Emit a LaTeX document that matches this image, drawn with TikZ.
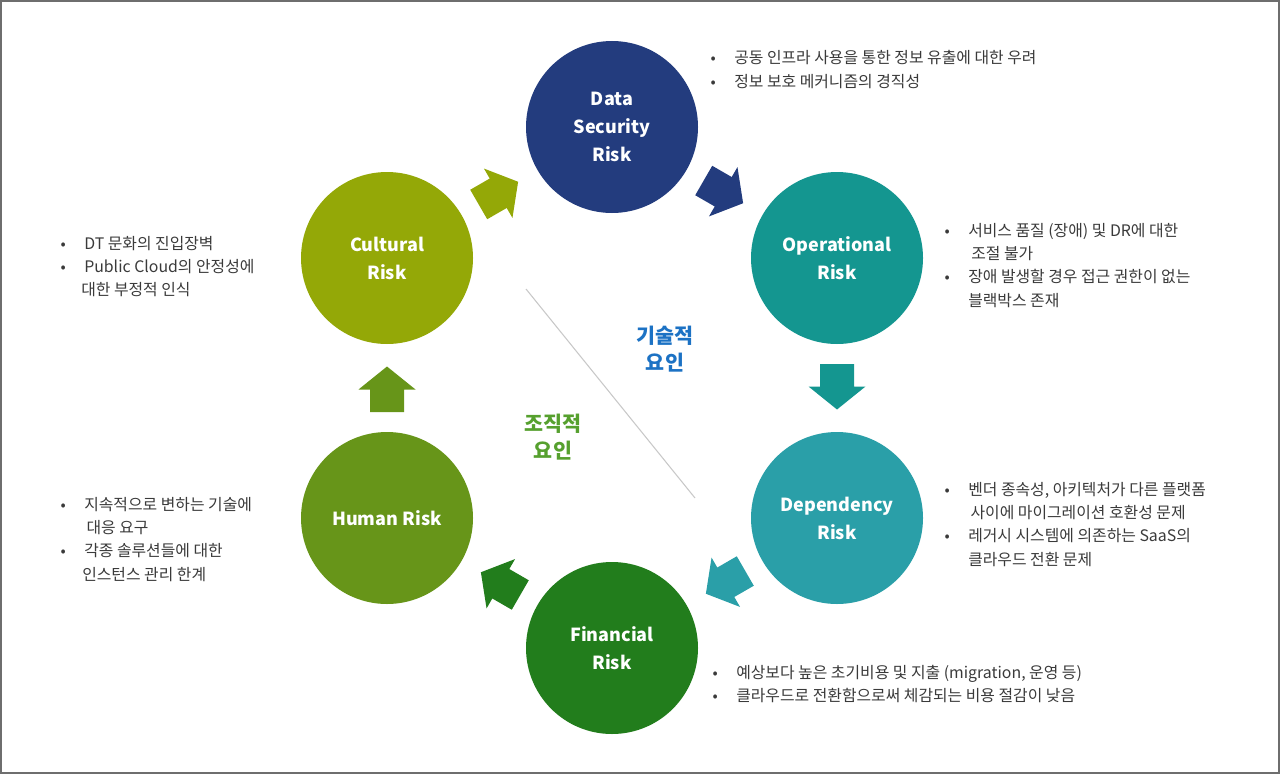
\documentclass[tikz,border=0pt]{standalone}
\usepackage{fontspec}
\setmainfont{Noto Sans CJK KR}
\usetikzlibrary{calc}
\definecolor{cdata}{RGB}{35,60,126}
\definecolor{coper}{RGB}{20,150,144}
\definecolor{cdep}{RGB}{42,159,168}
\definecolor{cfin}{RGB}{34,125,28}
\definecolor{chum}{RGB}{103,149,25}
\definecolor{ccul}{RGB}{148,168,7}
\definecolor{ctech}{RGB}{28,114,196}
\definecolor{corg}{RGB}{86,160,46}
\definecolor{ctxt}{RGB}{58,58,58}
\newcommand\bul{\makebox[0pt][c]{\fontsize{11.5}{11.5}\selectfont•}\hspace{15.75pt}}
\newcommand\cnt[1]{\hspace*{#1}}
\tikzset{
  riskcircle/.style={circle, minimum size=129pt, inner sep=0pt, text=white,
    align=center, font=\fontsize{13.5}{21}\selectfont\bfseries},
  bullets/.style={anchor=base west, inner sep=0pt, text=ctxt,
    font=\fontsize{11.9}{17.5}\selectfont},
  factor/.style={align=center, inner sep=0pt, font=\fontsize{15.5}{20.5}\selectfont\bfseries},
  blkarrow/.pic={\fill[pic actions] (-24,-17) -- (-1.5,-17) -- (-1.5,-28.5) -- (21.5,0)
     -- (-1.5,28.5) -- (-1.5,17) -- (-24,17) -- cycle;}
}
\begin{document}
\begin{tikzpicture}[x=0.75pt,y=-0.75pt]
\useasboundingbox (0,0) rectangle (1280,774);
\draw[color={rgb,255:red,110;green,110;blue,110}, line width=1.2pt] (0.8,0.8) rectangle (1279.2,773.2);

% diagonal divider
\coordinate (dA) at (526,289);
\coordinate (dB) at (695,498);
\draw[color={rgb,255:red,200;green,200;blue,200}, line width=0.8pt] (dA) -- (dB);

% circles
\node[riskcircle, fill=cdata] (dat) at (612,127) {Data\\Security\\Risk};
\node[riskcircle, fill=coper] (ope) at (837,258) {Operational\\Risk};
\node[riskcircle, fill=cdep] (dep) at (837,518) {Dependency\\Risk};
\node[riskcircle, fill=cfin] (fin) at (612,648) {Financial\\Risk};
\node[riskcircle, fill=chum] (hum) at (387,518) {Human Risk};
\node[riskcircle, fill=ccul] (cul) at (387,258) {Cultural\\Risk};

% block arrows
\pic[fill=ccul, rotate=30] at ($(cul)!0.5!(dat)$) {blkarrow};
\pic[fill=cdata, rotate=-30] at ($(dat)!0.5!(ope)$) {blkarrow};
\pic[fill=coper, rotate=-90] at ($(ope)!0.5!(dep)$) {blkarrow};
\pic[fill=cdep, rotate=-150] at ($(dep)!0.5!(fin)$) {blkarrow};
\pic[fill=cfin, rotate=150] at ($(fin)!0.5!(hum)$) {blkarrow};
\pic[fill=chum, rotate=90] at ($(hum)!0.5!(cul)$) {blkarrow};

% factor labels
\node[factor, text=ctech] (tech) at (665,349) {기술적\\요인};
\node[factor, text=corg] (org) at (553,437) {조직적\\요인};

% bullet texts
\node[bullets] (tdat) at (713,64) {\begin{tabular}[t]{@{}l@{}}
\bul 공동 인프라 사용을 통한 정보 유출에 대한 우려\\
\bul 정보 보호 메커니즘의 경직성\end{tabular}};
\node[bullets] (tope) at (947,236) {\begin{tabular}[t]{@{}l@{}}
\bul 서비스 품질 (장애) 및 DR에 대한\\
\cnt{18pt}조절 불가\\
\bul 장애 발생할 경우 접근 권한이 없는\\
\cnt{15.75pt}블랙박스 존재\end{tabular}};
\node[bullets] (tdep) at (947,495) {\begin{tabular}[t]{@{}l@{}}
\bul 벤더 종속성, 아키텍처가 다른 플랫폼\\
\cnt{17.5pt}사이에 마이그레이션 호환성 문제\\
\bul 레거시 시스템에 의존하는 SaaS의\\
\cnt{15.75pt}클라우드 전환 문제\end{tabular}};
\node[bullets] (tfin) at (715,678) {\begin{tabular}[t]{@{}l@{}}
\bul 예상보다 높은 초기비용 및 지출 (migration, 운영 등)\\
\bul 클라우드로 전환함으로써 체감되는 비용 절감이 낮음\end{tabular}};
\node[bullets] (tcul) at (63,249) {\begin{tabular}[t]{@{}l@{}}
\bul DT 문화의 진입장벽\\
\bul Public Cloud의 안정성에\\
\cnt{13.5pt}대한 부정적 인식\end{tabular}};
\node[bullets] (thum) at (63,510) {\begin{tabular}[t]{@{}l@{}}
\bul 지속적으로 변하는 기술에\\
\cnt{17.5pt}대응 요구\\
\bul 각종 솔루션들에 대한\\
\cnt{14.25pt}인스턴스 관리 한계\end{tabular}};
\end{tikzpicture}
\end{document}
